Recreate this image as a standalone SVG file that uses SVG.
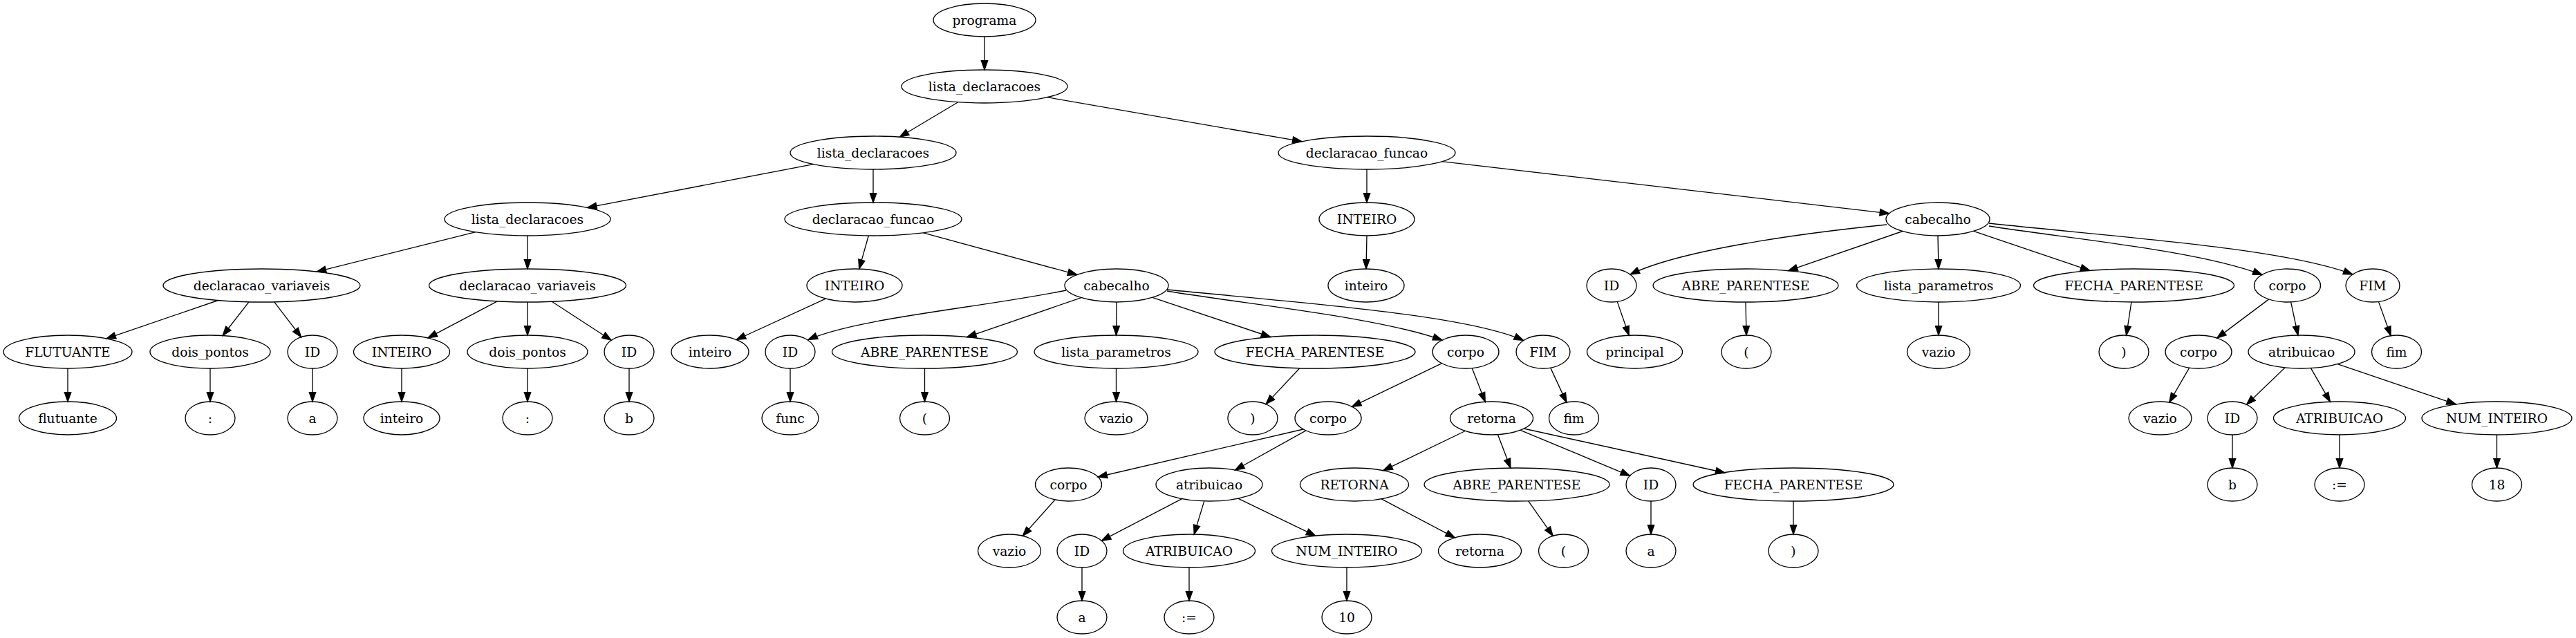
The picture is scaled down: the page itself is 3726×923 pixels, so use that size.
<svg xmlns="http://www.w3.org/2000/svg" width="3726" height="923" viewBox="0 0 3726 923">
<style>
.n ellipse{fill:none;stroke:#000;stroke-width:1.33}
.n text{font-family:"DejaVu Serif","Liberation Serif",serif;font-size:18.67px;text-anchor:middle;fill:#000}
#edges path{fill:none;stroke:#000;stroke-width:1.33;marker-end:url(#ah)}
</style>
<defs>
<marker id="ah" markerUnits="userSpaceOnUse" markerWidth="16" markerHeight="12" refX="13.33" refY="4.67" orient="auto" overflow="visible"><path d="M0,0 L13.33,4.67 L0,9.33 z" fill="#000" stroke="#000" stroke-width="1.33"/></marker>
</defs>
<rect width="3726" height="923" fill="#fff"/>
<g id="edges">
<path d="M1424,53 L1424,101"/>
<path d="M1385.8,147.8 L1301.2,198.2"/>
<path d="M1514.6,140.7 L1883,204.7"/>
<path d="M1176.4,237.6 L849.6,300.4"/>
<path d="M1263,245 L1263,293"/>
<path d="M1977,245 L1977,293"/>
<path d="M2085.8,233.6 L2732.5,308.8"/>
<path d="M688,335.7 L458.2,393.1"/>
<path d="M763,341 L763,389"/>
<path d="M1256.3,341 L1242.7,389.1"/>
<path d="M1335.5,336.8 L1557.9,397.4"/>
<path d="M1977,341 L1976,389"/>
<path d="M2729,325 C2600,338 2430,362 2358,397"/>
<path d="M2752,334.5 L2586.7,391.7"/>
<path d="M2803,341 L2804,389"/>
<path d="M2854.5,334.4 L3022.8,391.4"/>
<path d="M2877,327 C2990,345 3180,362 3272,397.5"/>
<path d="M2877,323 C3060,343 3300,358 3403,397"/>
<path d="M315.6,434.5 L154,489.8"/>
<path d="M360,436.8 L322.2,485.5"/>
<path d="M396.7,436.8 L435.6,487.6"/>
<path d="M719.3,435.9 L619,488.9"/>
<path d="M763,437 L763,485"/>
<path d="M798.2,436.2 L884.2,492.2"/>
<path d="M1194.3,432.1 L1065.2,491.5"/>
<path d="M1542,420 C1420,445 1240,460 1169,491.5"/>
<path d="M1564,430.6 L1398.7,487.7"/>
<path d="M1615,437 L1614.5,485"/>
<path d="M1666.8,430.3 L1837.7,487.5"/>
<path d="M1688,421 C1800,440 1990,458 2086,492"/>
<path d="M1688,419 C1880,438 2120,455 2203.5,492.5"/>
<path d="M2339.2,436.4 L2356.2,485.2"/>
<path d="M2525,437 L2526,485"/>
<path d="M2804,437 L2804,485"/>
<path d="M3082.9,437 L3075.6,485.1"/>
<path d="M3281.8,432.9 L3206.7,489.1"/>
<path d="M3313.6,436.9 L3323.9,485.1"/>
<path d="M3440.4,436.4 L3458.1,485.7"/>
<path d="M98,533 L98,581"/>
<path d="M304,533 L304,581"/>
<path d="M452,533 L452,581"/>
<path d="M581,533 L581,581"/>
<path d="M763,533 L763,581"/>
<path d="M910,533 L910,581"/>
<path d="M1143,533 L1143,581"/>
<path d="M1337.5,533 L1337.5,581"/>
<path d="M1614.5,533 L1614.5,581"/>
<path d="M1879.8,532.7 L1831.1,584.6"/>
<path d="M2085.5,525.7 L1955.5,588.3"/>
<path d="M2129.2,532.6 L2148.2,581.3"/>
<path d="M2242.7,532.1 L2265.9,582.1"/>
<path d="M3166.7,532.1 L3137.8,582"/>
<path d="M3305.2,531.8 L3249.5,585.3"/>
<path d="M3342.5,532.6 L3370.4,581.2"/>
<path d="M3381,526.7 L3552.3,584.9"/>
<path d="M1885,621 L1588,690"/>
<path d="M1889,622.9 L1786.5,680"/>
<path d="M2119.3,623.5 L2000.9,680.7"/>
<path d="M2166.5,628.7 L2184.9,677.1"/>
<path d="M2199.1,622.3 L2357.5,688.3"/>
<path d="M2204,620 L2495,684"/>
<path d="M3229,629 L3229,677"/>
<path d="M3384,629 L3384,677"/>
<path d="M3611.5,629 L3611.5,677"/>
<path d="M1526,722.9 L1479.3,775.3"/>
<path d="M1709.5,721.6 L1593.4,782.2"/>
<path d="M1741.8,724.9 L1727.2,773.1"/>
<path d="M1790.8,721.2 L1902.8,775.2"/>
<path d="M1998.3,721.8 L2104.3,777.9"/>
<path d="M2210.7,724.8 L2246.2,775.3"/>
<path d="M2388,725 L2388,773"/>
<path d="M2594,725 L2594,773"/>
<path d="M1565,821 L1565,869"/>
<path d="M1720,821 L1720,869"/>
<path d="M1948,821 L1948,869"/>
</g>
<g id="n0" class="n"><ellipse cx="1424" cy="29" rx="74" ry="24"/><text x="1424" y="35.5">programa</text></g>
<g id="n1" class="n"><ellipse cx="1424" cy="125" rx="120" ry="24"/><text x="1424" y="131.5">lista_declaracoes</text></g>
<g id="n2" class="n"><ellipse cx="1263" cy="221" rx="120" ry="24"/><text x="1263" y="227.5">lista_declaracoes</text></g>
<g id="n3" class="n"><ellipse cx="1977" cy="221" rx="128" ry="24"/><text x="1977" y="227.5">declaracao_funcao</text></g>
<g id="n4" class="n"><ellipse cx="763" cy="317" rx="120" ry="24"/><text x="763" y="323.5">lista_declaracoes</text></g>
<g id="n5" class="n"><ellipse cx="1263" cy="317" rx="128" ry="24"/><text x="1263" y="323.5">declaracao_funcao</text></g>
<g id="n6" class="n"><ellipse cx="1977" cy="317" rx="69" ry="24"/><text x="1977" y="323.5">INTEIRO</text></g>
<g id="n7" class="n"><ellipse cx="2803" cy="317" rx="75" ry="24"/><text x="2803" y="323.5">cabecalho</text></g>
<g id="n8" class="n"><ellipse cx="378.5" cy="413" rx="142.5" ry="24"/><text x="378.5" y="419.5">declaracao_variaveis</text></g>
<g id="n9" class="n"><ellipse cx="763" cy="413" rx="142.5" ry="24"/><text x="763" y="419.5">declaracao_variaveis</text></g>
<g id="n10" class="n"><ellipse cx="1236" cy="413" rx="69" ry="24"/><text x="1236" y="419.5">INTEIRO</text></g>
<g id="n11" class="n"><ellipse cx="1615" cy="413" rx="75" ry="24"/><text x="1615" y="419.5">cabecalho</text></g>
<g id="n12" class="n"><ellipse cx="1976" cy="413" rx="55" ry="24"/><text x="1976" y="419.5">inteiro</text></g>
<g id="n13" class="n"><ellipse cx="2331" cy="413" rx="36" ry="24"/><text x="2331" y="419.5">ID</text></g>
<g id="n14" class="n"><ellipse cx="2525" cy="413" rx="134" ry="24"/><text x="2525" y="419.5">ABRE_PARENTESE</text></g>
<g id="n15" class="n"><ellipse cx="2804" cy="413" rx="118.5" ry="24"/><text x="2804" y="419.5">lista_parametros</text></g>
<g id="n16" class="n"><ellipse cx="3086.5" cy="413" rx="145" ry="24"/><text x="3086.5" y="419.5">FECHA_PARENTESE</text></g>
<g id="n17" class="n"><ellipse cx="3308.5" cy="413" rx="48" ry="24"/><text x="3308.5" y="419.5">corpo</text></g>
<g id="n18" class="n"><ellipse cx="3432" cy="413" rx="39" ry="24"/><text x="3432" y="419.5">FIM</text></g>
<g id="n19" class="n"><ellipse cx="98" cy="509" rx="93" ry="24"/><text x="98" y="515.5">FLUTUANTE</text></g>
<g id="n20" class="n"><ellipse cx="304" cy="509" rx="87" ry="24"/><text x="304" y="515.5">dois_pontos</text></g>
<g id="n21" class="n"><ellipse cx="452" cy="509" rx="36" ry="24"/><text x="452" y="515.5">ID</text></g>
<g id="n22" class="n"><ellipse cx="581" cy="509" rx="69.5" ry="24"/><text x="581" y="515.5">INTEIRO</text></g>
<g id="n23" class="n"><ellipse cx="763" cy="509" rx="87" ry="24"/><text x="763" y="515.5">dois_pontos</text></g>
<g id="n24" class="n"><ellipse cx="910" cy="509" rx="36" ry="24"/><text x="910" y="515.5">ID</text></g>
<g id="n25" class="n"><ellipse cx="1027" cy="509" rx="56" ry="24"/><text x="1027" y="515.5">inteiro</text></g>
<g id="n26" class="n"><ellipse cx="1143" cy="509" rx="36" ry="24"/><text x="1143" y="515.5">ID</text></g>
<g id="n27" class="n"><ellipse cx="1337.5" cy="509" rx="134" ry="24"/><text x="1337.5" y="515.5">ABRE_PARENTESE</text></g>
<g id="n28" class="n"><ellipse cx="1614.5" cy="509" rx="118.5" ry="24"/><text x="1614.5" y="515.5">lista_parametros</text></g>
<g id="n29" class="n"><ellipse cx="1902" cy="509" rx="145" ry="24"/><text x="1902" y="515.5">FECHA_PARENTESE</text></g>
<g id="n30" class="n"><ellipse cx="2120" cy="509" rx="48" ry="24"/><text x="2120" y="515.5">corpo</text></g>
<g id="n31" class="n"><ellipse cx="2232" cy="509" rx="39" ry="24"/><text x="2232" y="515.5">FIM</text></g>
<g id="n32" class="n"><ellipse cx="2364.5" cy="509" rx="69" ry="24"/><text x="2364.5" y="515.5">principal</text></g>
<g id="n33" class="n"><ellipse cx="2526" cy="509" rx="36" ry="24"/><text x="2526" y="515.5">(</text></g>
<g id="n34" class="n"><ellipse cx="2804" cy="509" rx="45.5" ry="24"/><text x="2804" y="515.5">vazio</text></g>
<g id="n35" class="n"><ellipse cx="3072" cy="509" rx="36" ry="24"/><text x="3072" y="515.5">)</text></g>
<g id="n36" class="n"><ellipse cx="3180" cy="509" rx="48" ry="24"/><text x="3180" y="515.5">corpo</text></g>
<g id="n37" class="n"><ellipse cx="3329" cy="509" rx="77" ry="24"/><text x="3329" y="515.5">atribuicao</text></g>
<g id="n38" class="n"><ellipse cx="3466.5" cy="509" rx="36" ry="24"/><text x="3466.5" y="515.5">fim</text></g>
<g id="n39" class="n"><ellipse cx="98" cy="605" rx="70.5" ry="24"/><text x="98" y="611.5">flutuante</text></g>
<g id="n40" class="n"><ellipse cx="304" cy="605" rx="36" ry="24"/><text x="304" y="611.5">:</text></g>
<g id="n41" class="n"><ellipse cx="452" cy="605" rx="36" ry="24"/><text x="452" y="611.5">a</text></g>
<g id="n42" class="n"><ellipse cx="581" cy="605" rx="55" ry="24"/><text x="581" y="611.5">inteiro</text></g>
<g id="n43" class="n"><ellipse cx="763" cy="605" rx="36" ry="24"/><text x="763" y="611.5">:</text></g>
<g id="n44" class="n"><ellipse cx="910" cy="605" rx="36" ry="24"/><text x="910" y="611.5">b</text></g>
<g id="n45" class="n"><ellipse cx="1143" cy="605" rx="41" ry="24"/><text x="1143" y="611.5">func</text></g>
<g id="n46" class="n"><ellipse cx="1337.5" cy="605" rx="36" ry="24"/><text x="1337.5" y="611.5">(</text></g>
<g id="n47" class="n"><ellipse cx="1614.5" cy="605" rx="45.5" ry="24"/><text x="1614.5" y="611.5">vazio</text></g>
<g id="n48" class="n"><ellipse cx="1812" cy="605" rx="36" ry="24"/><text x="1812" y="611.5">)</text></g>
<g id="n49" class="n"><ellipse cx="1921" cy="605" rx="48" ry="24"/><text x="1921" y="611.5">corpo</text></g>
<g id="n50" class="n"><ellipse cx="2157.5" cy="605" rx="60" ry="24"/><text x="2157.5" y="611.5">retorna</text></g>
<g id="n51" class="n"><ellipse cx="2276.5" cy="605" rx="36" ry="24"/><text x="2276.5" y="611.5">fim</text></g>
<g id="n52" class="n"><ellipse cx="3124.5" cy="605" rx="45.5" ry="24"/><text x="3124.5" y="611.5">vazio</text></g>
<g id="n53" class="n"><ellipse cx="3229" cy="605" rx="36" ry="24"/><text x="3229" y="611.5">ID</text></g>
<g id="n54" class="n"><ellipse cx="3384" cy="605" rx="95.5" ry="24"/><text x="3384" y="611.5">ATRIBUICAO</text></g>
<g id="n55" class="n"><ellipse cx="3611.5" cy="605" rx="108.5" ry="24"/><text x="3611.5" y="611.5">NUM_INTEIRO</text></g>
<g id="n56" class="n"><ellipse cx="1545.5" cy="701" rx="48" ry="24"/><text x="1545.5" y="707.5">corpo</text></g>
<g id="n57" class="n"><ellipse cx="1749" cy="701" rx="77" ry="24"/><text x="1749" y="707.5">atribuicao</text></g>
<g id="n58" class="n"><ellipse cx="1959" cy="701" rx="78.5" ry="24"/><text x="1959" y="707.5">RETORNA</text></g>
<g id="n59" class="n"><ellipse cx="2194" cy="701" rx="134" ry="24"/><text x="2194" y="707.5">ABRE_PARENTESE</text></g>
<g id="n60" class="n"><ellipse cx="2388" cy="701" rx="36" ry="24"/><text x="2388" y="707.5">ID</text></g>
<g id="n61" class="n"><ellipse cx="2594" cy="701" rx="145" ry="24"/><text x="2594" y="707.5">FECHA_PARENTESE</text></g>
<g id="n62" class="n"><ellipse cx="3229" cy="701" rx="36" ry="24"/><text x="3229" y="707.5">b</text></g>
<g id="n63" class="n"><ellipse cx="3384" cy="701" rx="36" ry="24"/><text x="3384" y="707.5">:=</text></g>
<g id="n64" class="n"><ellipse cx="3611.5" cy="701" rx="36" ry="24"/><text x="3611.5" y="707.5">18</text></g>
<g id="n65" class="n"><ellipse cx="1460" cy="797" rx="45.5" ry="24"/><text x="1460" y="803.5">vazio</text></g>
<g id="n66" class="n"><ellipse cx="1565" cy="797" rx="36" ry="24"/><text x="1565" y="803.5">ID</text></g>
<g id="n67" class="n"><ellipse cx="1720" cy="797" rx="95.5" ry="24"/><text x="1720" y="803.5">ATRIBUICAO</text></g>
<g id="n68" class="n"><ellipse cx="1948" cy="797" rx="108.5" ry="24"/><text x="1948" y="803.5">NUM_INTEIRO</text></g>
<g id="n69" class="n"><ellipse cx="2140.5" cy="797" rx="60" ry="24"/><text x="2140.5" y="803.5">retorna</text></g>
<g id="n70" class="n"><ellipse cx="2261.5" cy="797" rx="36" ry="24"/><text x="2261.5" y="803.5">(</text></g>
<g id="n71" class="n"><ellipse cx="2388" cy="797" rx="36" ry="24"/><text x="2388" y="803.5">a</text></g>
<g id="n72" class="n"><ellipse cx="2594" cy="797" rx="36" ry="24"/><text x="2594" y="803.5">)</text></g>
<g id="n73" class="n"><ellipse cx="1565" cy="893" rx="36" ry="24"/><text x="1565" y="899.5">a</text></g>
<g id="n74" class="n"><ellipse cx="1720" cy="893" rx="36" ry="24"/><text x="1720" y="899.5">:=</text></g>
<g id="n75" class="n"><ellipse cx="1948" cy="893" rx="36" ry="24"/><text x="1948" y="899.5">10</text></g>
</svg>
